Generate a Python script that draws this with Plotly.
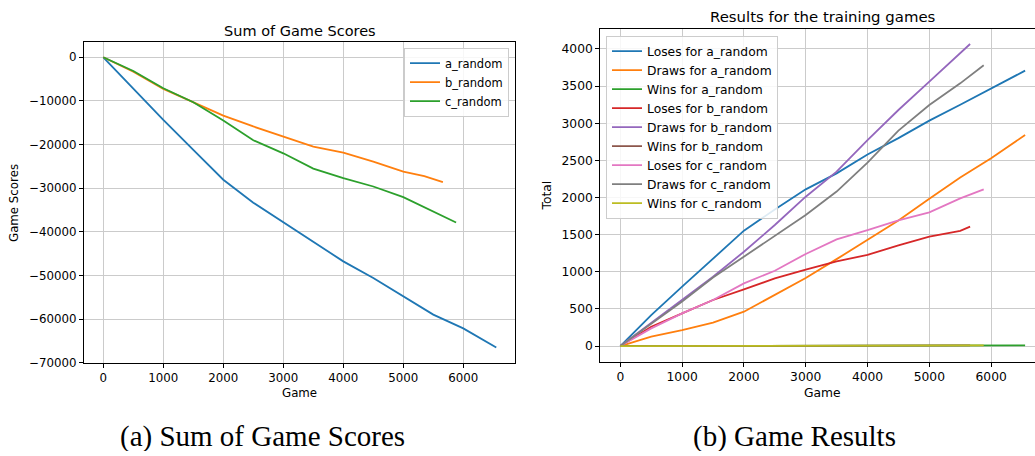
import plotly.graph_objects as go

# ---------------- data: left panel (Sum of Game Scores) ----------------
games_a = [0, 500, 1000, 1500, 2000, 2500, 3000, 3500, 4000, 4500, 5000, 5500, 6000, 6550]
score_a = [0, -7150, -14350, -21200, -28050, -33300, -37850, -42200, -46750, -50550, -54800, -58950, -62100, -66500]

games_b = [0, 500, 1000, 1500, 2000, 2500, 3000, 3500, 4000, 4500, 5000, 5350, 5660]
score_b = [0, -3300, -7250, -10300, -13350, -15850, -18150, -20450, -21850, -23900, -26200, -27200, -28600]

games_c = [0, 500, 1000, 1500, 2000, 2500, 3000, 3500, 4000, 4500, 5000, 5450, 5880]
score_c = [0, -3150, -7100, -10300, -14500, -19000, -22000, -25500, -27700, -29600, -32050, -35100, -37850]

left_names = ["a_random", "b_random", "c_random"]

# ---------------- data: right panel (Results for the training games) ----------------
res_games_a = [0, 500, 1000, 1500, 2000, 2500, 3000, 3500, 4000, 4500, 5000, 5500, 6000, 6550]
loses_a = [0, 417, 799, 1181, 1553, 1840, 2110, 2325, 2580, 2800, 3035, 3250, 3470, 3708]
draws_a = [0, 126, 215, 314, 462, 690, 915, 1170, 1428, 1690, 1982, 2270, 2528, 2842]
wins_games_a = [0, 3000, 6550]
wins_a = [0, 4, 8]

res_games_b = [0, 500, 1000, 1500, 2000, 2500, 3000, 3500, 4000, 4500, 5000, 5500, 5660]
loses_b = [0, 260, 440, 620, 763, 911, 1030, 1140, 1226, 1355, 1473, 1550, 1607]
draws_b = [0, 310, 620, 933, 1270, 1630, 2011, 2348, 2774, 3178, 3560, 3942, 4067]
wins_games_b = [0, 3000, 5660]
wins_b = [0, 4, 8]

res_games_c = [0, 500, 1000, 1500, 2000, 2500, 3000, 3500, 4000, 4500, 5000, 5500, 5880]
loses_c = [0, 238, 440, 620, 844, 1014, 1240, 1435, 1562, 1692, 1800, 1989, 2110]
draws_c = [0, 300, 600, 923, 1203, 1495, 1764, 2080, 2470, 2900, 3246, 3537, 3782]
wins_games_c = [0, 3000, 5880]
wins_c = [0, 4, 8]

x_ticks = [0, 1000, 2000, 3000, 4000, 5000, 6000]
left_y_ticks = [0, -10000, -20000, -30000, -40000, -50000, -60000, -70000]
right_y_ticks = [0, 500, 1000, 1500, 2000, 2500, 3000, 3500, 4000]

colors = ["#1f77b4", "#ff7f0e", "#2ca02c", "#d62728", "#9467bd",
          "#8c564b", "#e377c2", "#7f7f7f", "#bcbd22"]

W, H = 1035, 456
FONT = "DejaVu Sans"
LW = 1.8

fig = go.Figure()

# left panel
for i, (gx, gy) in enumerate([(games_a, score_a), (games_b, score_b), (games_c, score_c)]):
    fig.add_trace(go.Scatter(x=gx, y=gy, mode="lines", name=left_names[i],
                             line=dict(color=colors[i], width=LW),
                             xaxis="x", yaxis="y", legend="legend"))

# right panel
right_series = [
    ("Loses for a_random", res_games_a, loses_a),
    ("Draws for a_random", res_games_a, draws_a),
    ("Wins for a_random", wins_games_a, wins_a),
    ("Loses for b_random", res_games_b, loses_b),
    ("Draws for b_random", res_games_b, draws_b),
    ("Wins for b_random", wins_games_b, wins_b),
    ("Loses for c_random", res_games_c, loses_c),
    ("Draws for c_random", res_games_c, draws_c),
    ("Wins for c_random", wins_games_c, wins_c),
]
for i, (nm, gx, gy) in enumerate(right_series):
    fig.add_trace(go.Scatter(x=gx, y=gy, mode="lines", name=nm,
                             line=dict(color=colors[i], width=LW),
                             xaxis="x2", yaxis="y2", legend="legend2"))

grid = "#cbcbcb"
common = dict(showgrid=True, gridcolor=grid, gridwidth=1, zeroline=False,
              showline=True, linecolor="#000000", linewidth=1, automargin=False,
              ticks="outside", ticklen=4, tickcolor="#000000", tickwidth=1)

def px_x(p):
    return p / W

def px_y(p):
    return 1 - p / H

fig.update_layout(
    width=W, height=H,
    autosize=False,
    margin=dict(l=0, r=0, t=0, b=0, pad=0, autoexpand=False),
    paper_bgcolor="white", plot_bgcolor="white",
    font=dict(family=FONT, color="#000000"),
    xaxis=dict(domain=[px_x(84), px_x(515)], range=[-322, 6862], anchor="y",
               tickvals=x_ticks, mirror=True, tickfont=dict(size=11.8), **common),
    yaxis=dict(domain=[px_y(363), px_y(42)], range=[-70030, 3500], anchor="x",
               tickvals=left_y_ticks, tickformat="d", mirror=True,
               tickfont=dict(size=11.8), **common),
    xaxis2=dict(domain=[px_x(600.3), 1.0], range=[-324, 6710], anchor="y2",
                tickvals=x_ticks, mirror=True, tickfont=dict(size=12.3), **common),
    yaxis2=dict(domain=[px_y(361.7), px_y(29.3)], range=[-211, 4265], anchor="x2",
                tickvals=right_y_ticks, mirror=False, tickfont=dict(size=12.3), **common),
    legend=dict(x=px_x(509), xanchor="right", y=px_y(47.7), yanchor="top",
                bgcolor="rgba(255,255,255,0.85)", bordercolor="#cccccc", borderwidth=1,
                font=dict(family=FONT, size=11.5, color="#000000")),
    legend2=dict(x=px_x(606), xanchor="left", y=px_y(35.7), yanchor="top",
                 bgcolor="rgba(255,255,255,0.85)", bordercolor="#cccccc", borderwidth=1,
                 font=dict(family=FONT, size=12.3, color="#000000")),
    showlegend=True,
)

def ann(text, x, y, size, family=FONT, angle=0, height=None):
    kw = {}
    if height is not None:
        kw["height"] = height
        kw["valign"] = "middle"
    fig.add_annotation(text=text, x=px_x(x), y=px_y(y), xref="paper", yref="paper",
                       xanchor="center", yanchor="middle", showarrow=False,
                       textangle=angle, font=dict(family=family, size=size, color="#000000"),
                       **kw)

ann("Sum of Game Scores", 299.5, 30.5, 14.5)
ann("Results for the training games", 822.5, 16.7, 14.9)
ann("Game", 299.5, 392.7, 11.8)
ann("Game", 822.5, 392.7, 12.3)
ann("Game Scores", 14, 203, 11.8, angle=-90)
ann("Total", 546.5, 196, 12.3, angle=-90)
ann("(a) Sum of Game Scores", 262.5, 436, 29, family="Liberation Serif", height=30)
ann("(b) Game Results", 794, 436, 29, family="Liberation Serif", height=30)

fig.write_html("out.html",
               config={"displayModeBar": False},
               post_script="document.body.style.margin='0';document.body.style.padding='0';document.body.style.overflow='hidden';")
